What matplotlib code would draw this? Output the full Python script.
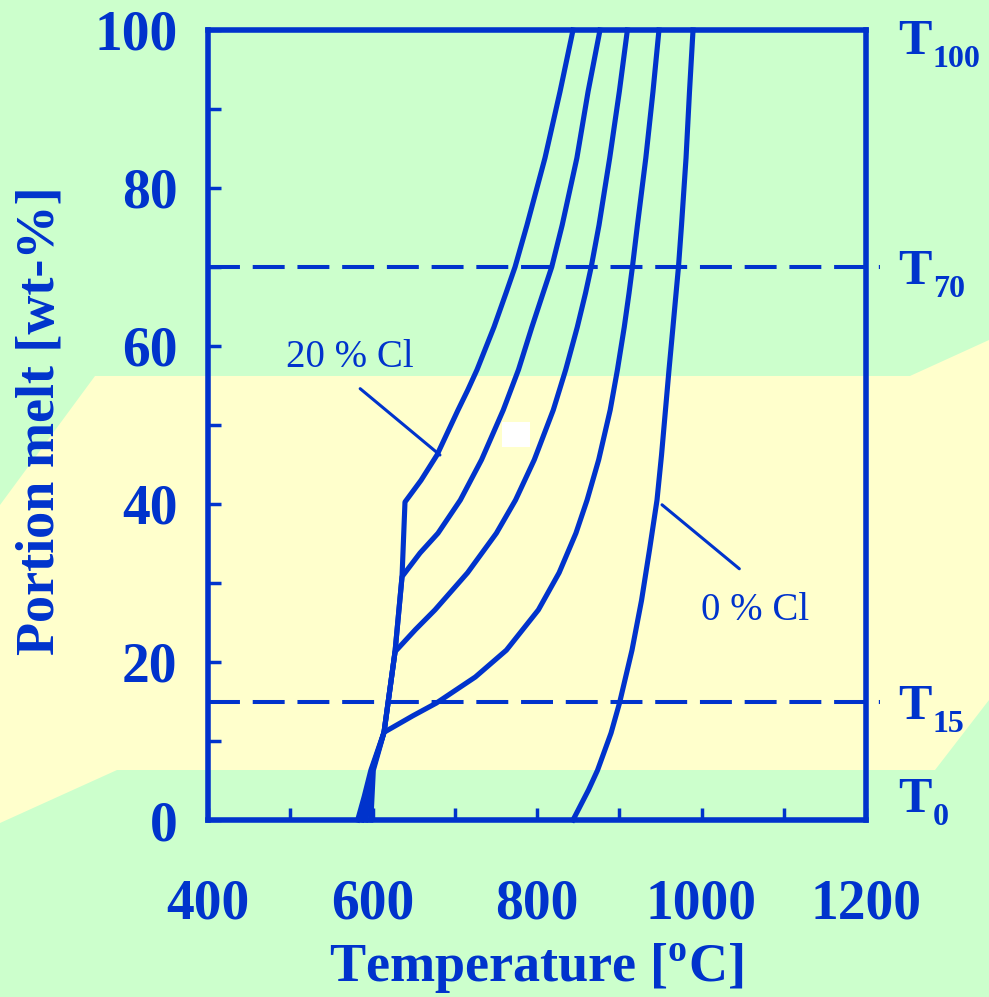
import matplotlib
matplotlib.use("Agg")
import matplotlib.pyplot as plt
from matplotlib.patches import Polygon, Rectangle
from matplotlib.transforms import blended_transform_factory

BLUE = "#0033cc"
GREEN = "#ccffcc"
YELLOW = "#ffffcc"

# melting curves: temperature [oC] vs. portion melt [wt-%]
cl20_temp = [582, 590, 598, 614, 627.4, 635.9, 639.5, 659.0, 678.4, 704.0, 715.7, 727.1, 747.7,
             762.3, 773.3, 787.8, 809.7, 828.0, 843.8]
cl20_melt = [0, 3.0, 6.3, 11.1, 21.3, 30.8, 40.25, 43.0, 46.2, 51.9, 54.4, 57.0, 62.4,
             66.7, 70.0, 75.3, 83.8, 92.2, 100]

cl15_temp = [587, 599, 614, 627.4, 635.9, 657.8, 679.6, 706.8, 732.6, 759.0, 777.5, 793.8,
             807.4, 817.9, 830.6, 848.5, 862.1, 876.6]
cl15_melt = [0, 6.3, 11.1, 21.3, 30.8, 33.8, 36.3, 40.5, 45.6, 51.9, 57.0, 62.4,
             66.7, 70.0, 75.3, 83.8, 92.2, 100]

cl10_temp = [592, 600, 614, 627.4, 652.2, 676.0, 715.6, 750.6, 773.9, 796.7, 819.8, 834.9,
             849.0, 859.0, 865.9, 875.4, 888.4, 900.1, 909.9]
cl10_melt = [0, 6.3, 11.1, 21.3, 24.1, 26.6, 31.3, 36.3, 40.5, 45.6, 51.9, 57.0,
             62.4, 66.7, 70.0, 75.3, 83.8, 92.2, 100]

cl5_temp = [598, 601, 614, 649.2, 677.6, 725.0, 762.8, 801.7, 826.9, 847.3, 860.9, 875.0,
            889.0, 897.8, 906.1, 911.9, 916.0, 922.1, 932.3, 941.0, 948.3]
cl5_melt = [0, 6.3, 11.1, 13.2, 14.8, 18.1, 21.5, 26.6, 31.3, 36.3, 40.5, 45.6,
            51.9, 57.0, 62.4, 66.7, 70.0, 75.3, 83.8, 92.2, 100]

cl0_temp = [843.8, 862.6, 873.6, 890.0, 900.3, 915.5, 927.1, 936.8, 945.9, 951.4, 956.2,
            960.5, 965.3, 972.0, 975.7, 981.2, 985.4, 989.7]
cl0_melt = [0, 3.8, 6.3, 11.0, 14.8, 21.5, 27.8, 34.2, 40.5, 46.2, 51.9,
            57.0, 62.4, 70.0, 75.3, 83.8, 92.2, 100]

curves = [(cl20_temp, cl20_melt), (cl15_temp, cl15_melt), (cl10_temp, cl10_melt),
          (cl5_temp, cl5_melt), (cl0_temp, cl0_melt)]

# characteristic melt levels (right-hand labels)
levels = [0, 15, 70, 100]
level_subs = ["0", "15", "70", "100"]
dashed_levels = [15, 70]

x_ticks = [400, 500, 600, 700, 800, 900, 1000, 1100, 1200]
x_ticklabels = ["400", "", "600", "", "800", "", "1000", "", "1200"]
y_ticks = [0, 10, 20, 30, 40, 50, 60, 70, 80, 90, 100]
y_ticklabels = ["0", "", "20", "", "40", "", "60", "", "80", "", "100"]

plt.rcParams["font.family"] = ["Liberation Serif", "DejaVu Serif"]
plt.rcParams["mathtext.fontset"] = "custom"
plt.rcParams["mathtext.rm"] = "Liberation Serif"
plt.rcParams["mathtext.bf"] = "Liberation Serif:bold"
plt.rcParams["lines.scale_dashes"] = False

W, H = 989, 997
fig = plt.figure(figsize=(W / 100, H / 100), dpi=100, facecolor=GREEN)


def fig_xy(px, py):
    return (px / W, 1 - py / H)


# yellow band in the background
band = [(0, 505), (95, 376), (910, 376), (989, 340), (989, 700), (935, 770), (117, 770), (0, 823)]
fig.patches.append(Polygon([fig_xy(*p) for p in band], closed=True, transform=fig.transFigure,
                           facecolor=YELLOW, edgecolor="none", zorder=-2))
x0, y0 = fig_xy(502, 447)
fig.patches.append(Rectangle((x0, y0), 28 / W, 25 / H, transform=fig.transFigure,
                             facecolor="white", edgecolor="none", zorder=-1))

ax = fig.add_axes([208 / W, 1 - 820 / H, 658 / W, 790 / H])
ax.patch.set_alpha(0)
ax.set_xlim(400, 1200)
ax.set_ylim(0, 100)

for t, m in curves:
    ax.plot(t, m, color=BLUE, lw=3.7, solid_joinstyle="round", clip_on=False, zorder=3)

for lv in dashed_levels:
    ax.plot([400, 1217], [lv, lv], color=BLUE, lw=2.9, dashes=(23, 9.2), clip_on=False, zorder=2)

for sp in ax.spines.values():
    sp.set_color(BLUE)
    sp.set_linewidth(4)

ax.set_xticks(x_ticks)
ax.set_xticklabels(x_ticklabels)
ax.set_yticks(y_ticks)
ax.set_yticklabels(y_ticklabels)
ax.tick_params(axis="both", direction="in", length=9, width=2.5, color=BLUE,
               labelcolor=BLUE, labelsize=40)
ax.tick_params(axis="x", pad=42)
ax.tick_params(axis="y", pad=22)
for lab in ax.get_xticklabels() + ax.get_yticklabels():
    lab.set_fontweight("bold")

ax.set_xlabel(r"Temperature [$^{\mathbf{o}}$C]", fontsize=39, fontweight="bold", color=BLUE)
ax.xaxis.set_label_coords(0.4985, -0.154)
ax.set_ylabel("Portion melt [wt-%]", fontsize=39, fontweight="bold", color=BLUE)
ax.yaxis.set_label_coords(-0.216, 0.506)

trans = blended_transform_factory(ax.transAxes, ax.transData)
base_drop = {0: -5.8, 15: 12.6, 70: 12.2, 100: 17.3}
for lv, sub in zip(levels, level_subs):
    ax.annotate("T", xy=(1.0486, lv), xycoords=trans, xytext=(0, -base_drop[lv]),
                textcoords="offset points", fontsize=36, fontweight="bold", color=BLUE,
                ha="left", va="baseline", annotation_clip=False)
    ax.annotate(sub, xy=(1.0486, lv), xycoords=trans, xytext=(25.2, -base_drop[lv] - 9.4),
                textcoords="offset points", fontsize=23, fontweight="bold", color=BLUE,
                ha="left", va="baseline", annotation_clip=False)

# curve annotations: leader line from the label to its curve
ax.annotate("", xy=(682, 46.2), xytext=(585, 54.6),
            arrowprops=dict(arrowstyle="-", color=BLUE, lw=2.2, shrinkA=0, shrinkB=0))
ax.text(573, 58.6, "20 % Cl", color=BLUE, fontsize=28, ha="center", va="center")
ax.annotate("", xy=(952, 39.9), xytext=(1046, 31.8),
            arrowprops=dict(arrowstyle="-", color=BLUE, lw=2.2, shrinkA=0, shrinkB=0))
ax.text(1065, 26.5, "0 % Cl", color=BLUE, fontsize=28, ha="center", va="center")

fig.savefig("out.png", dpi=100, facecolor=GREEN)
